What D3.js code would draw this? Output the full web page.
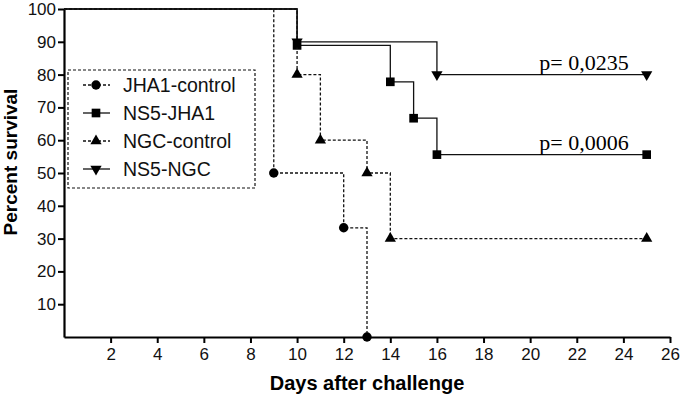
<!DOCTYPE html>
<meta charset="utf-8">
<title>Percent survival</title>
<script src="https://d3js.org/d3.v7.min.js"></script>
<style>
  body { margin: 0; background: #fff; }
  svg { font-family: "Liberation Sans", Arial, sans-serif; }
</style>
<svg width="680" height="395"></svg>
<script>
// survival data (day, percent)
var jha1Control = [[0, 100], [9, 50], [12, 33.3], [13, 0]];
var ns5Jha1 = [[0, 100], [10, 88.9], [14, 77.8], [15, 66.7], [16, 55.6], [25, 55.6]];
var ngcControl = [[0, 100], [10, 80], [11, 60], [13, 50], [14, 30], [25, 30]];
var ns5Ngc = [[0, 100], [10, 90], [16, 80], [25, 80]];

var seriesNames = ["JHA1-control", "NS5-JHA1", "NGC-control", "NS5-NGC"];
var xTicks = [2, 4, 6, 8, 10, 12, 14, 16, 18, 20, 22, 24, 26];
var yTicks = [10, 20, 30, 40, 50, 60, 70, 80, 90, 100];
var pLabels = [{ text: "p= 0,0235", x: 25, y: 80 }, { text: "p= 0,0006", x: 25, y: 55.6 }];

var series = [
  { name: seriesNames[0], data: jha1Control, dash: "3,2", symbol: d3.symbolCircle, size: 70, rot: 0 },
  { name: seriesNames[1], data: ns5Jha1, dash: null, symbol: d3.symbolSquare, size: 75, rot: 0 },
  { name: seriesNames[2], data: ngcControl, dash: "3,2", symbol: d3.symbolTriangle, size: 55, rot: 0 },
  { name: seriesNames[3], data: ns5Ngc, dash: null, symbol: d3.symbolTriangle, size: 55, rot: 180 }
];

var svg = d3.select("svg");
var margin = { left: 64, right: 10, top: 9, bottom: 58 };
var width = +svg.attr("width"), height = +svg.attr("height");

var x = d3.scaleLinear().domain([0, 26]).range([margin.left, width - margin.right]);
var y = d3.scaleLinear().domain([0, 100]).range([height - margin.bottom, margin.top]);

// axes
var xAxis = svg.append("g")
  .attr("transform", "translate(0," + y(0) + ")")
  .call(d3.axisBottom(x).tickValues(xTicks).tickSize(6).tickSizeOuter(0).tickPadding(5));
var yAxis = svg.append("g")
  .attr("transform", "translate(" + x(0) + ",0)")
  .call(d3.axisLeft(y).tickValues(yTicks).tickSize(6).tickSizeOuter(0).tickPadding(2));

[xAxis, yAxis].forEach(function(a) {
  a.select(".domain").attr("stroke-width", 2.2).attr("stroke", "#000");
  a.selectAll(".tick line").attr("stroke-width", 2).attr("stroke", "#000");
  a.selectAll(".tick text").attr("font-size", 17).attr("fill", "#111")
    .attr("font-family", "Liberation Sans, Arial, sans-serif");
});

svg.append("text")
  .attr("x", x(13)).attr("y", 390)
  .attr("text-anchor", "middle")
  .attr("font-size", 20).attr("font-weight", "bold")
  .text("Days after challenge");

svg.append("text")
  .attr("transform", "translate(17,162) rotate(-90)")
  .attr("text-anchor", "middle")
  .attr("font-size", 19).attr("font-weight", "bold")
  .text("Percent survival");

// step lines
var line = d3.line()
  .x(function(d) { return x(d[0]); })
  .y(function(d) { return y(d[1]); })
  .curve(d3.curveStepAfter);

var plot = svg.append("g");
series.forEach(function(s) {
  plot.append("path")
    .datum(s.data)
    .attr("d", line)
    .attr("fill", "none")
    .attr("stroke", "#111")
    .attr("stroke-width", 1.3)
    .attr("stroke-dasharray", s.dash);

  plot.selectAll(null)
    .data(s.data.slice(1))
    .enter()
    .append("path")
    .attr("d", d3.symbol().type(s.symbol).size(s.size))
    .attr("transform", function(d) {
      return "translate(" + x(d[0]) + "," + y(d[1]) + ") rotate(" + s.rot + ")";
    })
    .attr("fill", "#000");
});

// p values
svg.selectAll(".pval")
  .data(pLabels)
  .enter()
  .append("text")
  .attr("class", "pval")
  .attr("x", function(d) { return x(d.x) - 18; })
  .attr("y", function(d) { return y(d.y) - 5; })
  .attr("text-anchor", "end")
  .attr("font-family", "Liberation Serif, Times New Roman, serif")
  .attr("font-size", 22)
  .text(function(d) { return d.text; });

// legend
var legend = svg.append("g").attr("transform", "translate(68,70)");
legend.append("rect")
  .attr("x", 0).attr("y", 0).attr("width", 187).attr("height", 118)
  .attr("fill", "none").attr("stroke", "#111").attr("stroke-width", 1.2)
  .attr("stroke-dasharray", "3,2");

var item = legend.selectAll(".item")
  .data(series)
  .enter()
  .append("g")
  .attr("transform", function(d, i) { return "translate(0," + (15 + i * 28) + ")"; });

item.append("line")
  .attr("x1", 15).attr("x2", 42)
  .attr("stroke", "#111").attr("stroke-width", 1.3)
  .attr("stroke-dasharray", function(d) { return d.dash; });
item.append("path")
  .attr("d", function(d) { return d3.symbol().type(d.symbol).size(d.size)(); })
  .attr("transform", function(d) { return "translate(28,0) rotate(" + d.rot + ")"; })
  .attr("fill", "#000");
item.append("text")
  .attr("x", 55).attr("y", 7)
  .attr("font-size", 19.5).attr("fill", "#111")
  .text(function(d) { return d.name; });
</script>
